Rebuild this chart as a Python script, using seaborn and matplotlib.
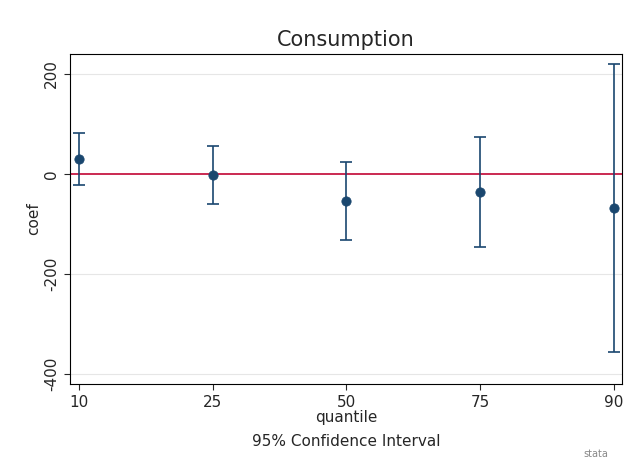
import matplotlib
matplotlib.use("Agg")
import matplotlib.pyplot as plt
import seaborn as sns
import pandas as pd
import numpy as np

quantile = [10, 25, 50, 75, 90]
coef = [30, -2, -54, -36, -68]
ci_low = [-22, -60, -132, -146, -356]
ci_high = [82, 56, 24, 74, 220]

df = pd.DataFrame({'quantile': quantile, 'coef': coef, 'lo': ci_low, 'hi': ci_high})
# quantiles are plotted evenly spaced, as categories
df['pos'] = np.arange(len(quantile))

sns.set_style('white')
plt.rcParams['font.family'] = ['DejaVu Sans']
navy = '#1a476f'

fig = plt.figure(figsize=(6.34, 4.65), dpi=100)
ax = fig.add_axes([0.110, 0.174, 0.871, 0.710])

for y in [-400, -200, 200]:
    ax.axhline(y, color='#e6e6e6', lw=0.8, zorder=0)
ax.axhline(0, color='#c10534', lw=1.2, zorder=1)

yerr = [df['coef'] - df['lo'], df['hi'] - df['coef']]
ax.errorbar(df['pos'], df['coef'], yerr=yerr, fmt='none', ecolor=navy,
            elinewidth=1.2, capsize=4, capthick=1.2, zorder=2)
sns.scatterplot(data=df, x='pos', y='coef', color=navy, s=45,
                edgecolor=navy, zorder=3, ax=ax)

ax.set_xlim(-0.067, 4.06)
ax.set_ylim(-420, 240)
ax.set_xticks(df['pos'])
ax.set_xticklabels([str(q) for q in quantile])
ax.set_yticks([-400, -200, 0, 200])
ax.set_yticklabels(['-400', '-200', '0', '200'], rotation=90, va='center')
ax.tick_params(axis='both', labelsize=11, length=4, left=True, bottom=True)
ax.set_xlabel('quantile', fontsize=11, labelpad=0)
ax.set_ylabel('coef', fontsize=11, labelpad=2)
for s in ax.spines.values():
    s.set_color('#000000')
    s.set_linewidth(0.8)

fig.text(0.546, 0.915, 'Consumption', ha='center', va='center', fontsize=15)
fig.text(0.546, 0.05, '95% Confidence Interval', ha='center', va='center', fontsize=11)
fig.text(0.96, 0.012, 'stata', ha='right', va='bottom', fontsize=7, color='#888888')

fig.savefig('out.png', dpi=100)
